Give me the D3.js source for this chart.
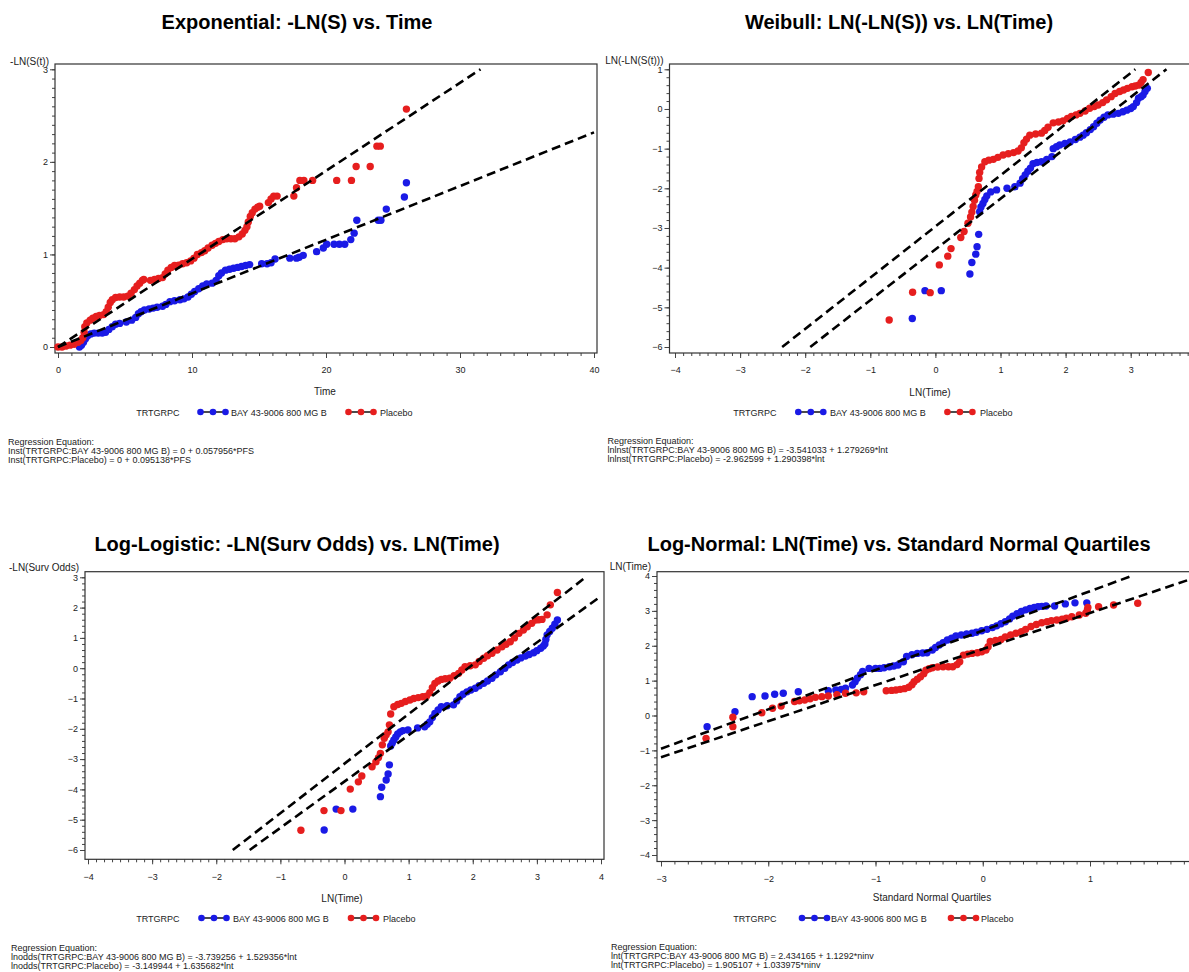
<!DOCTYPE html>
<meta charset="utf-8">
<style>
body { margin: 0; background: #fff; }
svg { display: block; font-family: Arial, "Liberation Sans", sans-serif; }
</style>
<svg width="1189" height="972" class="chart"></svg>
<script src="https://d3js.org/d3.v7.min.js"></script>
<script>

var groupLabel = "TRTGRPC";
var groups = ["BAY 43-9006 800 MG B", "Placebo"];

// Exponential: -LN(S) vs Time  [time, -ln S]
var expBay = [[1.6,0],[1.75,0.02],[1.9,0.05],[2.05,0.09],[2.2,0.12],[2.45,0.14],[2.7,0.15],[3.0,0.15],[3.3,0.15],[3.55,0.16],[3.8,0.19],[4.05,0.22],[4.3,0.245],[4.6,0.255],[5.1,0.27],[5.5,0.29],[5.8,0.32],[6.0,0.36],[6.2,0.38],[6.45,0.4],[6.8,0.41],[7.1,0.42],[7.4,0.43],[7.8,0.44],[8.05,0.46],[8.35,0.49],[8.7,0.5],[9.1,0.51],[9.4,0.52],[9.7,0.54],[9.95,0.57],[10.2,0.6],[10.5,0.63],[10.8,0.66],[11.1,0.68],[11.5,0.69],[11.8,0.72],[12.0,0.77],[12.2,0.8],[12.5,0.83],[12.8,0.84],[13.1,0.85],[13.4,0.86],[13.7,0.87],[14.0,0.88],[14.3,0.89],[15.2,0.9],[15.6,0.9],[15.9,0.91],[16.2,0.95],[17.3,0.96],[17.8,0.96],[18.0,0.97],[18.3,0.99],[19.3,1.03],[19.8,1.07],[20.05,1.11],[20.6,1.11],[21.0,1.11],[21.4,1.11],[21.85,1.16],[22.1,1.23],[22.3,1.37],[23.9,1.37],[24.1,1.37],[24.5,1.49],[25.85,1.62],[26.0,1.775]];
var expPlacebo = [[0,0],[0.3,0],[0.6,0.01],[0.9,0.02],[1.2,0.03],[1.5,0.05],[1.7,0.07],[1.85,0.1],[1.95,0.16],[2.0,0.22],[2.15,0.26],[2.4,0.29],[2.6,0.31],[2.85,0.33],[3.1,0.34],[3.4,0.35],[3.6,0.38],[3.75,0.43],[3.9,0.48],[4.05,0.51],[4.3,0.535],[4.6,0.54],[4.9,0.54],[5.2,0.55],[5.45,0.58],[5.7,0.62],[5.9,0.66],[6.1,0.69],[6.3,0.72],[6.4,0.73],[6.9,0.72],[7.2,0.73],[7.5,0.74],[7.8,0.75],[8.0,0.79],[8.2,0.83],[8.45,0.86],[8.7,0.88],[9.0,0.885],[9.3,0.9],[9.6,0.91],[9.9,0.93],[10.15,0.96],[10.4,1.0],[10.7,1.02],[10.95,1.04],[11.2,1.07],[11.5,1.1],[11.75,1.12],[12.0,1.14],[12.3,1.16],[12.6,1.17],[12.9,1.17],[13.2,1.17],[13.5,1.19],[13.75,1.22],[13.95,1.26],[14.1,1.3],[14.2,1.35],[14.35,1.41],[14.5,1.45],[14.7,1.49],[14.9,1.51],[15.05,1.52],[15.7,1.56],[15.9,1.6],[16.1,1.63],[16.35,1.63],[17.6,1.63],[17.8,1.72],[18.05,1.8],[18.35,1.8],[19.0,1.8],[20.8,1.8],[21.9,1.8],[22.25,1.95],[23.3,1.95],[23.8,2.17],[24.05,2.17],[26.0,2.57]];

// Weibull: LN(-LN(S)) vs LN(Time)
var weiBay = [[-0.355,-5.28],[-0.16,-4.58],[0.09,-4.58],[0.53,-4.16],[0.56,-3.87],[0.62,-3.66],[0.64,-3.47],[0.665,-3.16],[0.68,-2.59],[0.7,-2.47],[0.73,-2.38],[0.76,-2.28],[0.79,-2.19],[0.85,-2.09],[0.94,-2.04],[1.1,-2.0],[1.22,-1.96],[1.3,-1.87],[1.34,-1.76],[1.38,-1.66],[1.42,-1.57],[1.46,-1.49],[1.5,-1.38],[1.56,-1.35],[1.63,-1.33],[1.71,-1.27],[1.79,-1.2],[1.81,-1.0],[1.86,-0.95],[1.91,-0.91],[1.99,-0.87],[2.07,-0.83],[2.15,-0.77],[2.22,-0.71],[2.27,-0.66],[2.32,-0.6],[2.38,-0.52],[2.43,-0.45],[2.48,-0.36],[2.53,-0.28],[2.59,-0.21],[2.65,-0.15],[2.73,-0.13],[2.81,-0.11],[2.88,-0.07],[2.94,-0.03],[3.0,0.01],[3.04,0.06],[3.09,0.16],[3.12,0.27],[3.16,0.31],[3.19,0.35],[3.22,0.44],[3.255,0.52]];
var weiPlacebo = [[-0.71,-5.32],[-0.35,-4.62],[-0.08,-4.63],[0.06,-3.93],[0.19,-3.71],[0.24,-3.52],[0.39,-3.24],[0.44,-3.09],[0.5,-2.88],[0.54,-2.72],[0.56,-2.6],[0.58,-2.46],[0.6,-2.3],[0.62,-2.17],[0.64,-2.08],[0.66,-1.96],[0.67,-1.75],[0.68,-1.6],[0.71,-1.46],[0.76,-1.33],[0.82,-1.29],[0.89,-1.27],[0.96,-1.22],[1.04,-1.16],[1.12,-1.13],[1.2,-1.1],[1.27,-1.06],[1.32,-0.98],[1.36,-0.85],[1.4,-0.76],[1.45,-0.66],[1.54,-0.63],[1.63,-0.61],[1.68,-0.54],[1.73,-0.46],[1.81,-0.35],[1.89,-0.33],[1.96,-0.3],[2.03,-0.24],[2.09,-0.19],[2.16,-0.15],[2.22,-0.11],[2.3,-0.05],[2.37,0.02],[2.44,0.06],[2.5,0.1],[2.57,0.16],[2.63,0.23],[2.7,0.31],[2.76,0.39],[2.83,0.44],[2.89,0.48],[2.95,0.52],[3.02,0.56],[3.07,0.58],[3.12,0.6],[3.16,0.67],[3.19,0.74],[3.27,0.92]];

// Log-logistic: -LN(Surv Odds) vs LN(Time)
var llBay = [[-0.317,-5.34],[-0.13,-4.65],[0.13,-4.65],[0.56,-4.24],[0.58,-3.93],[0.65,-3.69],[0.68,-3.49],[0.7,-3.19],[0.72,-2.57],[0.745,-2.47],[0.77,-2.37],[0.8,-2.27],[0.83,-2.17],[0.87,-2.1],[0.91,-2.06],[0.99,-2.04],[1.14,-1.97],[1.25,-1.93],[1.29,-1.85],[1.33,-1.77],[1.37,-1.63],[1.41,-1.49],[1.46,-1.38],[1.51,-1.27],[1.6,-1.24],[1.7,-1.21],[1.75,-1.08],[1.8,-0.94],[1.85,-0.86],[1.91,-0.78],[1.97,-0.72],[2.04,-0.66],[2.1,-0.58],[2.17,-0.5],[2.23,-0.42],[2.3,-0.33],[2.36,-0.22],[2.43,-0.12],[2.5,0.0],[2.56,0.11],[2.62,0.19],[2.69,0.27],[2.75,0.34],[2.82,0.4],[2.88,0.45],[2.95,0.51],[3.0,0.58],[3.06,0.66],[3.1,0.73],[3.125,0.8],[3.14,0.95],[3.16,1.1],[3.2,1.21],[3.24,1.32],[3.28,1.45],[3.32,1.59]];
var llPlacebo = [[-0.68,-5.35],[-0.32,-4.7],[-0.055,-4.7],[0.09,-3.99],[0.216,-3.75],[0.27,-3.56],[0.43,-3.25],[0.49,-3.09],[0.53,-2.95],[0.56,-2.81],[0.59,-2.53],[0.62,-2.31],[0.65,-2.2],[0.68,-2.1],[0.7,-1.87],[0.72,-1.51],[0.77,-1.27],[0.83,-1.2],[0.886,-1.16],[0.95,-1.1],[1.02,-1.05],[1.08,-1.0],[1.15,-0.97],[1.22,-0.94],[1.28,-0.92],[1.33,-0.81],[1.37,-0.64],[1.41,-0.5],[1.46,-0.42],[1.51,-0.37],[1.57,-0.35],[1.64,-0.33],[1.71,-0.25],[1.78,-0.17],[1.83,-0.06],[1.88,0.05],[1.96,0.08],[2.04,0.11],[2.1,0.22],[2.17,0.33],[2.23,0.41],[2.3,0.49],[2.38,0.6],[2.455,0.71],[2.52,0.79],[2.585,0.875],[2.65,1.0],[2.72,1.15],[2.79,1.26],[2.85,1.37],[2.92,1.48],[2.98,1.59],[3.03,1.6],[3.08,1.61],[3.16,1.76],[3.21,2.09],[3.32,2.5]];

// Log-normal: LN(Time) vs standard normal quantile
var lnBay = [[-2.57,-0.32],[-2.31,0.11],[-2.15,0.54],[-2.03,0.56],[-1.94,0.61],[-1.86,0.64],[-1.72,0.68],[-1.44,0.71],[-1.37,0.73],[-1.32,0.75],[-1.28,0.78],[-1.215,0.875],[-1.19,0.97],[-1.17,1.07],[-1.14,1.17],[-1.12,1.26],[-1.06,1.35],[-1.0,1.35],[-0.96,1.35],[-0.92,1.37],[-0.87,1.4],[-0.83,1.42],[-0.79,1.45],[-0.74,1.54],[-0.71,1.69],[-0.66,1.74],[-0.61,1.78],[-0.56,1.79],[-0.52,1.8],[-0.47,1.88],[-0.44,1.95],[-0.405,2.02],[-0.37,2.09],[-0.33,2.165],[-0.29,2.22],[-0.25,2.28],[-0.2,2.31],[-0.15,2.34],[-0.1,2.36],[-0.06,2.385],[-0.01,2.43],[0.04,2.47],[0.09,2.52],[0.13,2.57],[0.17,2.63],[0.21,2.69],[0.25,2.77],[0.28,2.85],[0.32,2.92],[0.36,2.98],[0.4,3.03],[0.44,3.07],[0.48,3.1],[0.515,3.12],[0.55,3.13],[0.59,3.14],[0.67,3.14],[0.77,3.2],[0.86,3.23],[0.97,3.23]];
var lnPlacebo = [[-2.58,-0.655],[-2.33,-0.32],[-2.33,-0.05],[-2.06,0.08],[-1.96,0.21],[-1.88,0.27],[-1.755,0.4],[-1.71,0.42],[-1.66,0.445],[-1.61,0.48],[-1.56,0.52],[-1.5,0.54],[-1.44,0.56],[-1.36,0.6],[-1.28,0.64],[-1.18,0.65],[-1.11,0.68],[-0.9,0.71],[-0.85,0.72],[-0.81,0.73],[-0.77,0.75],[-0.73,0.77],[-0.69,0.81],[-0.66,0.88],[-0.64,0.97],[-0.61,1.04],[-0.58,1.11],[-0.55,1.2],[-0.53,1.3],[-0.5,1.34],[-0.47,1.37],[-0.42,1.39],[-0.37,1.4],[-0.32,1.4],[-0.28,1.4],[-0.24,1.46],[-0.215,1.54],[-0.18,1.73],[-0.14,1.76],[-0.1,1.78],[-0.05,1.8],[-0.01,1.83],[0.03,1.88],[0.05,1.97],[0.07,2.12],[0.12,2.15],[0.17,2.18],[0.21,2.25],[0.26,2.31],[0.31,2.36],[0.36,2.4],[0.4,2.47],[0.45,2.55],[0.5,2.61],[0.55,2.66],[0.6,2.69],[0.64,2.72],[0.69,2.74],[0.74,2.76],[0.78,2.79],[0.83,2.83],[0.9,2.88],[0.96,2.93],[0.975,3.02],[0.98,3.1],[1.08,3.12],[1.22,3.17],[1.445,3.22]];

// regression fits [intercept, slope]
var expReg = [[0, 0.057956], [0, 0.095138]];
var weiReg = [[-3.541033, 1.279269], [-2.962599, 1.290398]];
var llReg = [[-3.739256, 1.529356], [-3.149944, 1.635682]];
var lnReg = [[2.434165, 1.1292], [1.905107, 1.033975]];

var expEq = ["Regression Equation:", "Inst(TRTGRPC:BAY 43-9006 800 MG B) =  0 + 0.057956*PFS", "Inst(TRTGRPC:Placebo) =  0 + 0.095138*PFS"];
var weiEq = ["Regression Equation:", "lnlnst(TRTGRPC:BAY 43-9006 800 MG B) = -3.541033 + 1.279269*lnt", "lnlnst(TRTGRPC:Placebo) = -2.962599 + 1.290398*lnt"];
var llEq = ["Regression Equation:", "lnodds(TRTGRPC:BAY 43-9006 800 MG B) = -3.739256 + 1.529356*lnt", "lnodds(TRTGRPC:Placebo) = -3.149944 + 1.635682*lnt"];
var lnEq = ["Regression Equation:", "lnt(TRTGRPC:BAY 43-9006 800 MG B) =  2.434165 + 1.1292*ninv", "lnt(TRTGRPC:Placebo) =  1.905107 + 1.033975*ninv"];

var colors = ["#1a1ae6", "#e61e1e"];

var panels = [
  {title: "Exponential: -LN(S) vs. Time", titleX: 297, titleY: 29,
   frame: [55, 64, 597, 353], xDomain: [0, 40], xRange: [58, 594], yDomain: [0, 3], yRange: [347, 69.3],
   xTicks: [0, 10, 20, 30, 40], xMinor: d3.range(0, 40.01, 1), yTicks: [0, 1, 2, 3], yMinor: d3.range(0, 3.001, 0.1),
   lineX: [0, 40], yLabel: "-LN(S(t))", yLabelY: 65, xLabel: "Time", xLabelX: 325, xLabelY: 395,
   leg: {y: 412, labelEnd: 179.5, bayMark: 200.5, bayText: 231, plaMark: 348.5, plaText: 380},
   eqX: 8, eqY: 445, series: [expBay, expPlacebo], reg: expReg, eq: expEq},
  {title: "Weibull: LN(-LN(S)) vs. LN(Time)", titleX: 899, titleY: 29,
   frame: [669.5, 64, 1200, 353], xDomain: [-4, 3], xRange: [675, 1130.7], yDomain: [-6, 1], yRange: [347, 69.3],
   xTicks: d3.range(-4, 4, 1), xMinor: d3.range(-4, 3.95, 0.125), yTicks: d3.range(-6, 2, 1), yMinor: d3.range(-6, 1.001, 0.2),
   lineX: [-4, 4], yLabel: "LN(-LN(S(t)))", yLabelY: 64, xLabel: "LN(Time)", xLabelX: 930, xLabelY: 395.5,
   leg: {y: 412, labelEnd: 776.5, bayMark: 798.3, bayText: 830, plaMark: 947.4, plaText: 980},
   eqX: 607.5, eqY: 444, series: [weiBay, weiPlacebo], reg: weiReg, eq: weiEq},
  {title: "Log-Logistic: -LN(Surv Odds) vs. LN(Time)", titleX: 297, titleY: 551,
   frame: [85, 571.7, 604, 859.3], xDomain: [-4, 4], xRange: [88, 601], yDomain: [-6, 3], yRange: [850, 577.3],
   xTicks: d3.range(-4, 5, 1), xMinor: d3.range(-4, 4.001, 0.125), yTicks: d3.range(-6, 4, 1), yMinor: d3.range(-6, 3.001, 0.2),
   lineX: [-4, 4], yLabel: "-LN(Surv Odds)", yLabelY: 570.5, xLabel: "LN(Time)", xLabelX: 342, xLabelY: 901.5,
   leg: {y: 918, labelEnd: 179.5, bayMark: 201.5, bayText: 233, plaMark: 351, plaText: 383},
   eqX: 11, eqY: 950.5, series: [llBay, llPlacebo], reg: llReg, eq: llEq},
  {title: "Log-Normal: LN(Time) vs. Standard Normal Quartiles", titleX: 899, titleY: 551,
   frame: [657, 571.7, 1210, 861.5], xDomain: [-3, 1], xRange: [661, 1090], yDomain: [-4, 4], yRange: [855, 576],
   xTicks: d3.range(-3, 2, 1), xMinor: d3.range(-3, 1.95, 0.125), yTicks: d3.range(-4, 5, 1), yMinor: d3.range(-4, 4.001, 0.2),
   lineX: [-3, 2], yLabel: "LN(Time)", yLabelY: 570, xLabel: "Standard Normal Quartiles", xLabelX: 932, xLabelY: 901,
   leg: {y: 918, labelEnd: 776.5, bayMark: 802, bayText: 831, plaMark: 951, plaText: 981},
   eqX: 611, eqY: 950, series: [lnBay, lnPlacebo], reg: lnReg, eq: lnEq}
];

var svg = d3.select(".chart");

panels.forEach(function(p) {
  var g = svg.append("g");
  var x = d3.scaleLinear().domain(p.xDomain).range(p.xRange);
  var y = d3.scaleLinear().domain(p.yDomain).range(p.yRange);
  var f = p.frame;

  g.append("text")
      .attr("x", p.titleX)
      .attr("y", p.titleY)
      .attr("text-anchor", "middle")
      .attr("font-size", 20)
      .attr("font-weight", "bold")
      .text(p.title);

  // minor + major ticks, bottom
  g.append("g")
      .attr("transform", "translate(0," + f[3] + ")")
      .call(d3.axisBottom(x).tickValues(p.xMinor).tickSize(3).tickFormat(""))
      .call(function(a) { a.select(".domain").remove(); a.selectAll("line").attr("stroke", "#444"); });
  g.append("g")
      .attr("transform", "translate(0," + f[3] + ")")
      .call(d3.axisBottom(x).tickValues(p.xTicks).tickSize(5).tickPadding(9).tickFormat(d3.format("d")))
      .call(function(a) {
        a.select(".domain").remove();
        a.attr("font-size", 9).attr("font-family", null);
        a.selectAll("line").attr("stroke", "#444");
        a.selectAll("text").attr("fill", "#222");
      });

  // left
  g.append("g")
      .attr("transform", "translate(" + f[0] + ",0)")
      .call(d3.axisLeft(y).tickValues(p.yMinor).tickSize(3).tickFormat(""))
      .call(function(a) { a.select(".domain").remove(); a.selectAll("line").attr("stroke", "#444"); });
  g.append("g")
      .attr("transform", "translate(" + f[0] + ",0)")
      .call(d3.axisLeft(y).tickValues(p.yTicks).tickSize(5).tickPadding(2).tickFormat(d3.format("d")))
      .call(function(a) {
        a.select(".domain").remove();
        a.attr("font-size", 9).attr("font-family", null);
        a.selectAll("line").attr("stroke", "#444");
        a.selectAll("text").attr("fill", "#222");
      });

  g.append("rect")
      .attr("x", f[0])
      .attr("y", f[1])
      .attr("width", f[2] - f[0])
      .attr("height", f[3] - f[1])
      .attr("fill", "none")
      .attr("stroke", "#333")
      .attr("stroke-width", 1.2);

  g.append("text")
      .attr("x", f[0] - 6)
      .attr("y", p.yLabelY)
      .attr("text-anchor", "end")
      .attr("font-size", 10)
      .attr("fill", "#222")
      .text(p.yLabel);

  g.append("text")
      .attr("x", p.xLabelX)
      .attr("y", p.xLabelY)
      .attr("text-anchor", "middle")
      .attr("font-size", 10)
      .attr("fill", "#222")
      .text(p.xLabel);

  // points
  p.series.forEach(function(s, i) {
    g.append("g").selectAll("circle")
      .data(s)
      .enter().append("circle")
        .attr("cx", function(d) { return x(d[0]); })
        .attr("cy", function(d) { return y(d[1]); })
        .attr("r", 3.7)
        .attr("fill", colors[i]);
  });

  // fitted lines, kept inside the y range
  p.reg.forEach(function(r) {
    var x0 = p.lineX[0], x1 = p.lineX[1];
    var lo = p.yDomain[0], hi = p.yDomain[1];
    if (r[0] + r[1] * x0 < lo) x0 = (lo - r[0]) / r[1];
    if (r[0] + r[1] * x1 > hi) x1 = (hi - r[0]) / r[1];
    g.append("line")
        .attr("x1", x(x0)).attr("y1", y(r[0] + r[1] * x0))
        .attr("x2", x(x1)).attr("y2", y(r[0] + r[1] * x1))
        .attr("stroke", "#000")
        .attr("stroke-width", 2.6)
        .attr("stroke-dasharray", "9,5");
  });

  // legend
  var leg = g.append("g").attr("font-size", 9).attr("fill", "#222");
  leg.append("text")
      .attr("x", p.leg.labelEnd)
      .attr("y", p.leg.y + 3.5)
      .attr("text-anchor", "end")
      .text(groupLabel);
  [p.leg.bayMark, p.leg.plaMark].forEach(function(mx, i) {
    leg.append("line")
        .attr("x1", mx).attr("x2", mx + 25)
        .attr("y1", p.leg.y).attr("y2", p.leg.y)
        .attr("stroke", "#111")
        .attr("stroke-width", 1.5);
    leg.selectAll(null)
      .data([0, 12.5, 25])
      .enter().append("circle")
        .attr("cx", function(d) { return mx + d; })
        .attr("cy", p.leg.y)
        .attr("r", 3.3)
        .attr("fill", colors[i]);
  });
  leg.append("text").attr("x", p.leg.bayText).attr("y", p.leg.y + 3.5).text(groups[0]);
  leg.append("text").attr("x", p.leg.plaText).attr("y", p.leg.y + 3.5).text(groups[1]);

  // regression text
  g.append("g").selectAll("text")
    .data(p.eq)
    .enter().append("text")
      .attr("x", p.eqX)
      .attr("y", function(d, i) { return p.eqY + i * 9; })
      .attr("font-size", 9)
      .attr("fill", "#222")
      .text(function(d) { return d; });
});

</script>
